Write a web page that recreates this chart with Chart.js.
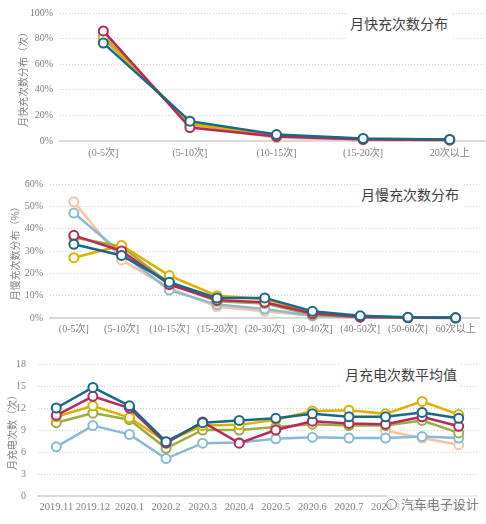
<!DOCTYPE html>
<html>
<head>
<meta charset="utf-8">
<script src="https://cdn.jsdelivr.net/npm/chart.js@4"></script>
<style>
  body { margin: 0; width: 486px; height: 524px; overflow: hidden; background: #fff; position: relative; }
  .box { position: absolute; left: 0; }
  .title {
    position: absolute; background: #fff; color: #404040;
    font: 14px "Noto Sans CJK SC", sans-serif; padding: 2px 4px 9px 4px; line-height: 16px;
  }
  .mark {
    position: absolute; left: 386px; top: 494px; color: rgba(90,90,90,0.75);
    font: 13px "Noto Sans CJK SC", sans-serif; background: rgba(255,255,255,0.55);
  }
  .mark span { display: inline-block; width: 9px; height: 9px; border: 1.5px solid rgba(90,90,90,0.7); border-radius: 50%; margin-right: 4px; vertical-align: -1px; }
</style>
</head>
<body>
<div class="box" style="top:0;width:500px;height:165px"><canvas id="fastChart"></canvas></div>
<div class="box" style="top:165px;width:486px;height:175px"><canvas id="slowChart"></canvas></div>
<div class="box" style="top:340px;width:486px;height:184px"><canvas id="avgChart"></canvas></div>
<div class="title" style="left:346px;top:13px">月快充次数分布</div>
<div class="title" style="left:357px;top:184px">月慢充次数分布</div>
<div class="title" style="left:341px;top:364px">月充电次数平均值</div>
<div class="mark"><span></span>汽车电子设计</div>
<script>
/* ---- data ---- */
const COLORS = ["#1a6886", "#b8285c", "#dcb000", "#9aae3e", "#88bad6", "#f6c3a3"];

const FAST_LABELS = ["(0-5次]", "(5-10次]", "(10-15次]", "(15-20次]", "20次以上"];
const FAST_S1 = [76.5, 15.5, 5, 2, 1.2];
const FAST_S2 = [86, 10.5, 3.5, 1.2, 0.8];
const FAST_S3 = [81, 13, 4.5, 1.5, 1];
const FAST_S4 = [82, 13.5, 4.5, 1.5, 1];
const FAST_S5 = [80, 14.5, 4, 1.5, 1];
const FAST_S6 = [84, 12, 2.5, 0.8, 0.4];

const SLOW_LABELS = ["(0-5次]", "(5-10次]", "(10-15次]", "(15-20次]", "(20-30次]",
  "(30-40次]", "(40-50次]", "(50-60次]", "60次以上"];
const SLOW_S1 = [33, 28, 16, 9, 9, 3, 1, 0.3, 0.1];
const SLOW_S2 = [37, 30, 15, 8, 7, 2, 0.5, 0.2, 0.1];
const SLOW_S3 = [27, 32.5, 19, 10, 8.5, 2.5, 0.7, 0.2, 0.1];
const SLOW_S4 = [36, 32, 15.5, 7.5, 6.5, 1.5, 0.5, 0.2, 0.1];
const SLOW_S5 = [47, 29, 12.5, 6, 4, 1, 0.3, 0.1, 0];
const SLOW_S6 = [52, 26, 13.5, 5, 3, 1, 0.3, 0.1, 0];

const MONTHS = ["2019.11", "2019.12", "2020.1", "2020.2", "2020.3", "2020.4",
  "2020.5", "2020.6", "2020.7", "2020.8", "2020.9", "2020.10"];
const AVG_S1 = [12, 14.8, 12.3, 7.4, 10, 10.3, 10.6, 11.2, 10.8, 10.8, 11.4, 10.6];
const AVG_S2 = [11, 13.6, 12, 7.2, 10.1, 7.2, 9, 10.2, 9.9, 9.8, 10.8, 9.5];
const AVG_S3 = [10.8, 12.3, 10.7, 7.4, 9.6, 9.7, 10.4, 11.6, 11.7, 11.2, 12.9, 11.1];
const AVG_S4 = [10, 11.3, 10.4, 6.5, 9, 9, 9.4, 9.8, 9.6, 9.6, 10.3, 8.6];
const AVG_S5 = [6.7, 9.6, 8.4, 5.1, 7.2, 7.3, 7.8, 8, 7.9, 7.9, 8.1, 7.9];
const AVG_S6 = [null, null, null, null, null, null, null, null, null, 8.9, 7.9, 7];

const FAST_TICKS = [0, 20, 40, 60, 80, 100];
const SLOW_TICKS = [0, 10, 20, 30, 40, 50, 60];
const AVG_TICKS = [0, 3, 6, 9, 12, 15, 18];

/* ---- helpers ---- */
const TICK_FONT = { family: "'Liberation Serif', 'Noto Sans CJK SC', serif", size: 10 };

function makeSets(series) {
  return series.map((data, i) => ({
    data: data,
    borderColor: COLORS[i],
    backgroundColor: "#fff",
    pointBackgroundColor: "#fff",
    pointBorderColor: COLORS[i],
    borderWidth: 2.5,
    pointRadius: 4.5,
    pointBorderWidth: 2,
    tension: 0,
    clip: false,
    spanGaps: false,
  }));
}

function makeChart(id, labels, series, o) {
  new Chart(document.getElementById(id), {
    type: "line",
    data: { labels: labels, datasets: makeSets(series) },
    options: {
      responsive: true,
      maintainAspectRatio: false,
      animation: false,
      layout: { padding: o.pad },
      plugins: { legend: { display: false }, tooltip: { enabled: false } },
      scales: {
        x: {
          offset: true,
          grid: { display: false, drawTicks: false },
          border: { display: true, color: "#d9d9d9", width: 2 },
          ticks: { color: "#7f7f7f", font: o.xFont || TICK_FONT, padding: o.xPad,
            autoSkip: false, maxRotation: 0, minRotation: 0 },
          afterFit: (s) => { s.height = o.xHeight; },
        },
        y: {
          min: 0,
          max: o.ticks[o.ticks.length - 1],
          afterBuildTicks: (s) => { s.ticks = o.ticks.map((v) => ({ value: v })); },
          grid: { color: "#cfcfcf", drawTicks: false },
          border: { display: false, dash: [1, 2] },
          ticks: { color: "#7f7f7f", font: TICK_FONT, padding: o.yPad,
            callback: (v) => v + o.unit },
          title: { display: true, text: o.yTitle, color: "#7f7f7f",
            font: { family: "'Noto Sans CJK SC', serif", size: 10 },
            padding: { top: o.titlePad, bottom: 0 } },
          afterFit: (s) => { s.width = o.yWidth; },
        },
      },
    },
  });
}

makeChart("fastChart", FAST_LABELS, [FAST_S1, FAST_S2, FAST_S3, FAST_S4, FAST_S5, FAST_S6], {
  pad: { top: 7, right: 7, left: 0, bottom: 0 },
  ticks: FAST_TICKS, unit: "%", yWidth: 60, xHeight: 24, xPad: 6, yPad: 7,
  yTitle: "月快充次数分布（次）", titlePad: 17,
});

makeChart("slowChart", SLOW_LABELS, [SLOW_S1, SLOW_S2, SLOW_S3, SLOW_S4, SLOW_S5, SLOW_S6], {
  pad: { top: 19, right: 2, left: 0, bottom: 0 },
  ticks: SLOW_TICKS, unit: "%", yWidth: 50, xHeight: 22, xPad: 5, yPad: 7,
  yTitle: "月慢充次数分布（%）", titlePad: 9,
});

makeChart("avgChart", MONTHS, [AVG_S1, AVG_S2, AVG_S3, AVG_S4, AVG_S5, AVG_S6], {
  pad: { top: 24, right: 9, left: 0, bottom: 0 },
  ticks: AVG_TICKS, unit: "", yWidth: 38, xHeight: 28, xPad: 5, yPad: 12,
  xFont: { family: "'Liberation Serif', serif", size: 10.5 },
  yTitle: "月充电次数（次）", titlePad: 6,
});
</script>
</body>
</html>
